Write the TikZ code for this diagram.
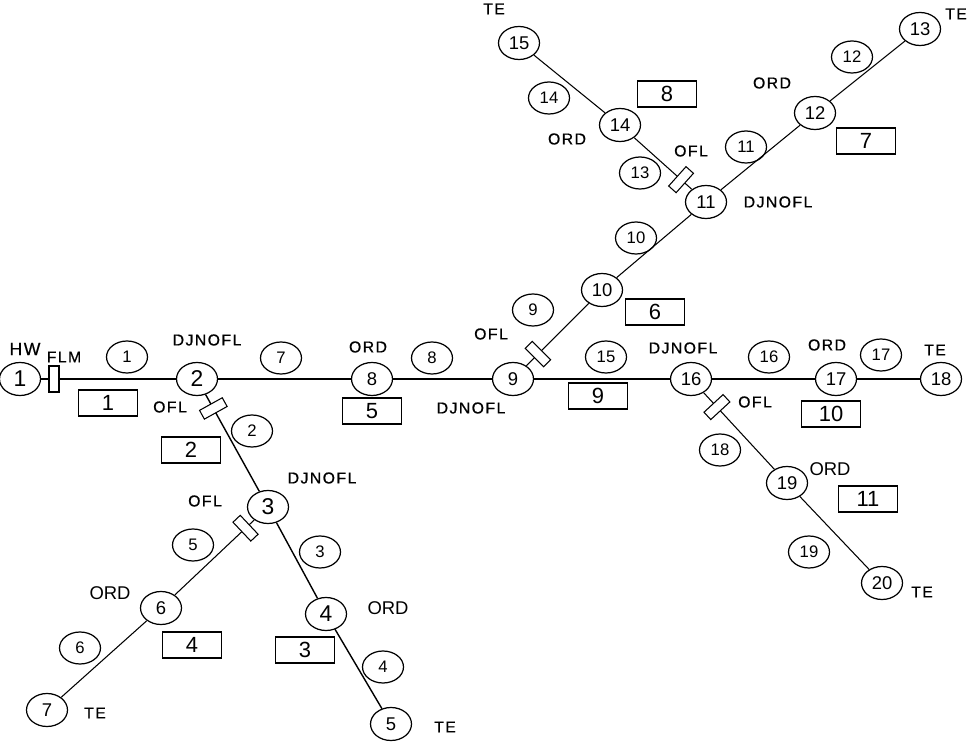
\documentclass[tikz,border=0pt]{standalone}
\usepackage{fontspec}
\setmainfont{Liberation Sans}
\newfontfamily\lblfont[LetterSpace=9, FakeBold=0.6]{Liberation Sans}
\usetikzlibrary{shapes.geometric}
\tikzset{
	bus/.style={draw, ellipse, line width=0.7pt, minimum width=0.82cm, minimum height=0.66cm, inner sep=0pt, font=\fontsize{10.5}{12}\selectfont},
	bigbus/.style={bus, font=\fontsize{13}{15}\selectfont},
	br/.style={draw, ellipse, line width=0.7pt, minimum width=0.82cm, minimum height=0.64cm, inner sep=0pt, font=\fontsize{9.5}{11}\selectfont},
	area/.style={draw, rectangle, line width=0.7pt, minimum width=1.18cm, minimum height=0.52cm, inner sep=0pt, font=\fontsize{12.5}{14}\selectfont},
	tag/.style={inner sep=0pt, font=\lblfont\fontsize{9}{10}\selectfont},
	bigtag/.style={inner sep=0pt, font=\fontsize{10.5}{12}\selectfont},
	ofl/.style={draw, fill=white, rectangle, line width=0.6pt, minimum width=0.2cm, minimum height=0.52cm, inner sep=0pt},
	main/.style={line width=1.1pt},
	mid/.style={line width=0.8pt},
	feeder/.style={line width=0.6pt}
}
\begin{document}
\begin{tikzpicture}[x=0.02cm, y=-0.02cm]
				\useasboundingbox (0,0) rectangle (969,742);
				
				\node[bigbus] (n1) at (20,379) {1};
				\node[bigbus] (n2) at (197,379) {2};
				\node[bigbus] (n3) at (268,507) {3};
				\node[bigbus] (n4) at (326,614) {4};
				\node[bus] (n5) at (391,724) {5};
				\node[bus] (n6) at (161,608) {6};
				\node[bus] (n7) at (47,710) {7};
				\node[bus] (n8) at (372,379) {8};
				\node[bus] (n9) at (513,379) {9};
				\node[bus] (n10) at (602,290) {10};
				\node[bus] (n11) at (706,202) {11};
				\node[bus] (n12) at (815,113) {12};
				\node[bus] (n13) at (920,29) {13};
				\node[bus] (n14) at (620,125) {14};
				\node[bus] (n15) at (519,43) {15};
				\node[bus] (n16) at (691,379) {16};
				\node[bus] (n17) at (836,379) {17};
				\node[bus] (n18) at (941,379) {18};
				\node[bus] (n19) at (787,483) {19};
				\node[bus] (n20) at (882,583) {20};
				
				\node[ofl] (flm) at (54,379) {};
				\draw[main] (n1) -- (flm);
				\draw[main] (flm) -- (n2);
				\draw[main] (n2) -- (n8);
				\draw[main] (n8) -- (n9);
				\draw[main] (n9) -- (n16);
				\draw[main] (n16) -- (n17);
				\draw[main] (n17) -- (n18);
				
				\draw[mid] (n2) -- (n3);
				\draw[mid] (n3) -- (n4);
				\draw[mid] (n4) -- (n5);
				\draw[feeder] (n3) -- (n6);
				\draw[feeder] (n6) -- (n7);
				\draw[feeder] (n9) -- (n10);
				\draw[feeder] (n10) -- (n11);
				\draw[feeder] (n11) -- (n12);
				\draw[feeder] (n12) -- (n13);
				\draw[feeder] (n11) -- (n14);
				\draw[feeder] (n14) -- (n15);
				\draw[feeder] (n16) -- (n19);
				\draw[feeder] (n19) -- (n20);
				
				\path (n2.center) -- node[ofl, sloped, pos=0.23] (s2) {} (n3.center);
				\path (n3.center) -- node[ofl, sloped, pos=0.21] (s3) {} (n6.center);
				\path (n9.center) -- node[ofl, sloped, pos=0.28] (s9) {} (n10.center);
				\path (n11.center) -- node[ofl, sloped, pos=0.29] (s11) {} (n14.center);
				\path (n16.center) -- node[ofl, sloped, pos=0.27] (s16) {} (n19.center);
				
				\node[br] (b1) at (127,357) {1};
				\node[br] (b2) at (252,431) {2};
				\node[br] (b3) at (320,552) {3};
				\node[br] (b4) at (383,667) {4};
				\node[br] (b5) at (193,545) {5};
				\node[br] (b6) at (80,648) {6};
				\node[br] (b7) at (281,358) {7};
				\node[br] (b8) at (432,358) {8};
				\node[br] (b9) at (533,310) {9};
				\node[br] (b10) at (636,238) {10};
				\node[br] (b11) at (746,147) {11};
				\node[br] (b12) at (852,57) {12};
				\node[br] (b13) at (640,173) {13};
				\node[br] (b14) at (549,98) {14};
				\node[br] (b15) at (606,357) {15};
				\node[br] (b16) at (769,357) {16};
				\node[br] (b17) at (881,355) {17};
				\node[br] (b18) at (720,450) {18};
				\node[br] (b19) at (809,552) {19};
				
				\node[area] (r1) at (108,403) {1};
				\node[area] (r2) at (191,450) {2};
				\node[area] (r3) at (305,650) {3};
				\node[area] (r4) at (192,645) {4};
				\node[area] (r5) at (372,411) {5};
				\node[area] (r6) at (655,312) {6};
				\node[area] (r7) at (866,141) {7};
				\node[area] (r8) at (667,94) {8};
				\node[area] (r9) at (598,396) {9};
				\node[area] (r10) at (831,414) {10};
				\node[area] (r11) at (868,499) {11};
				
				\node[tag, font=\lblfont\fontsize{10}{11}\selectfont] (hw) at (25,349) {HW};
				\node[tag] (tflm) at (64,357) {FLM};
				\node[tag] (dj2) at (207,340) {DJNOFL};
				\node[tag] (ord8) at (368,347) {ORD};
				\node[tag] (ofl2) at (170,407) {OFL};
				\node[tag] (dj3) at (322,478) {DJNOFL};
				\node[tag] (ofl3) at (205,501) {OFL};
				\node[bigtag] (ord6) at (110,593) {ORD};
				\node[bigtag] (ord4) at (388,608) {ORD};
				\node[tag] (te7) at (95,713) {TE};
				\node[tag] (te5) at (445,727) {TE};
				\node[tag] (dj9) at (471,408) {DJNOFL};
				\node[tag] (ofl9) at (491,334) {OFL};
				\node[tag] (dj16) at (683,348) {DJNOFL};
				\node[tag] (ord17) at (827,345) {ORD};
				\node[tag] (te18) at (935,350) {TE};
				\node[tag] (ofl16) at (755,402) {OFL};
				\node[bigtag] (ord19) at (830,469) {ORD};
				\node[tag] (te20) at (922,592) {TE};
				\node[tag] (dj11) at (778,202) {DJNOFL};
				\node[tag] (ofl11) at (691,151) {OFL};
				\node[tag] (ord14) at (567,139) {ORD};
				\node[tag] (te15) at (494,9) {TE};
				\node[tag] (ord12) at (772,83) {ORD};
				\node[tag] (te13) at (956,14) {TE};
\end{tikzpicture}
\end{document}
